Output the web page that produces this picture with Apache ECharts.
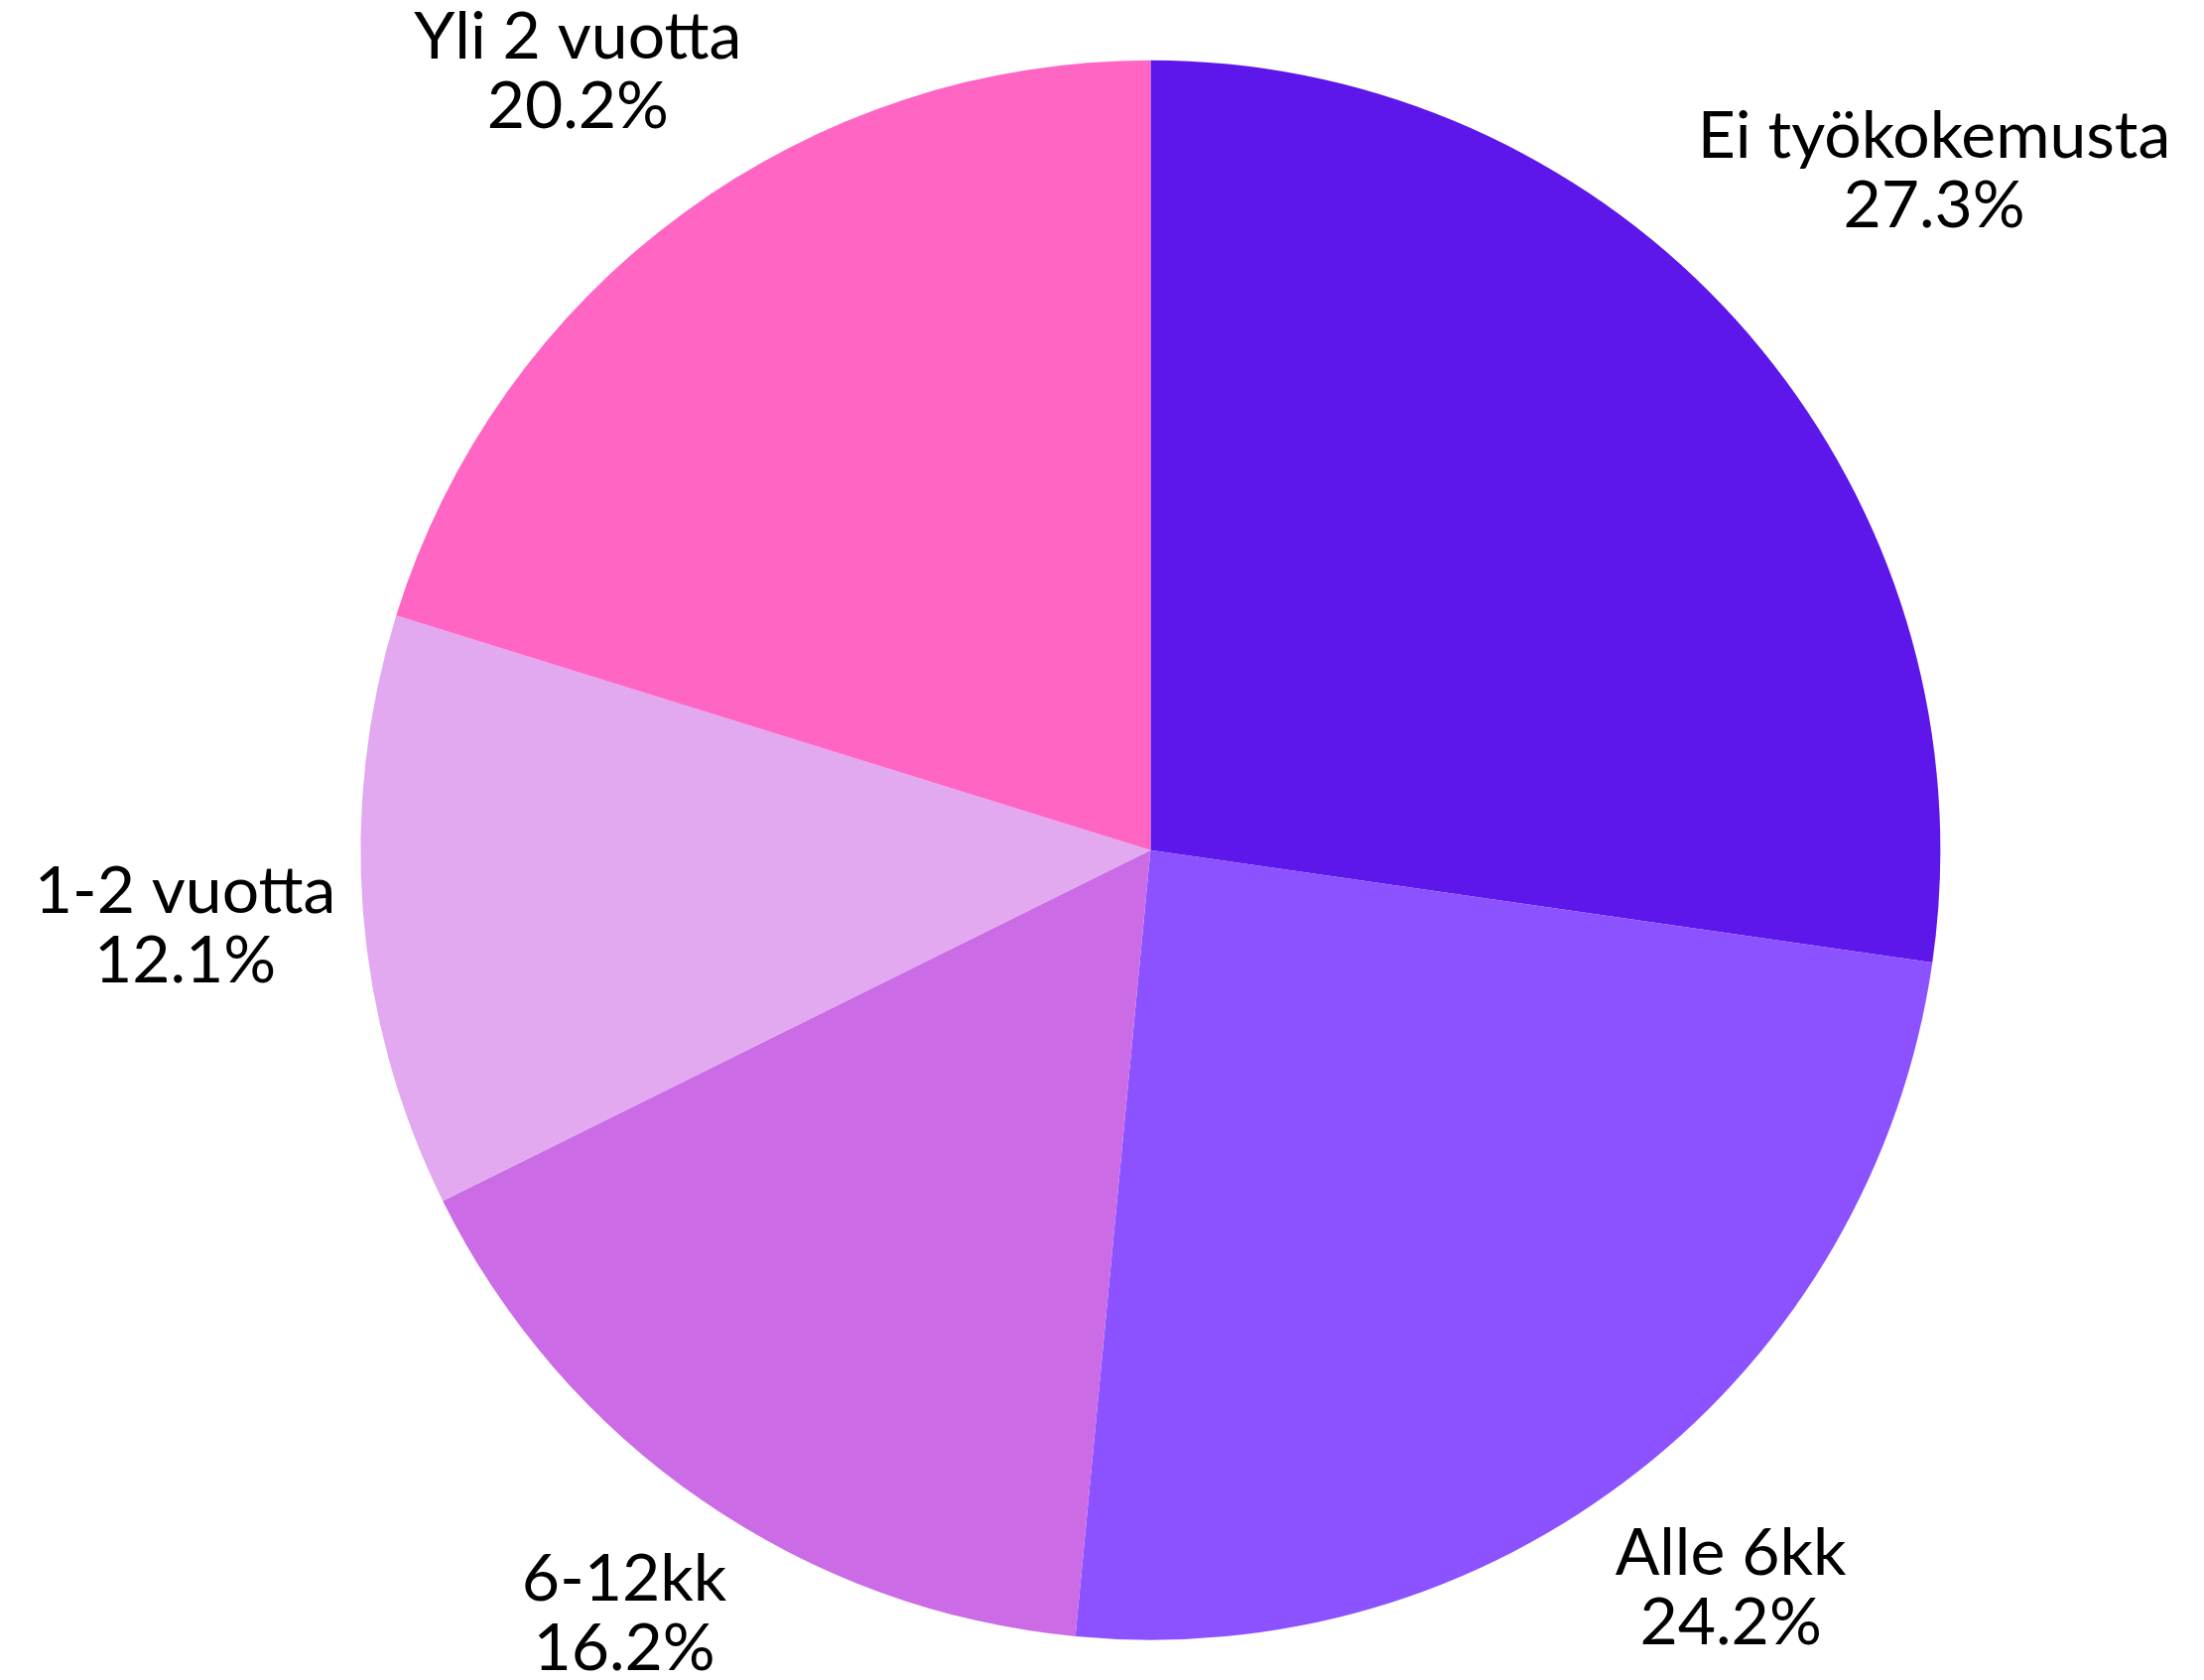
<!DOCTYPE html>
<html>
<head>
<meta charset="utf-8">
<script src="https://cdn.jsdelivr.net/npm/echarts@6/dist/echarts.min.js"></script>
<style>
  html, body { margin: 0; padding: 0; background: #ffffff; }
  #main { width: 2221px; height: 1693px; }
</style>
</head>
<body>
<div id="main"></div>
<script>
// työkokemus jakauma (lukumäärät, yhteensä 99)
var categories = ['Ei työkokemusta', 'Alle 6kk', '6-12kk', '1-2 vuotta', 'Yli 2 vuotta'];
var counts = [27, 24, 16, 12, 20];
var colors = ['#5E17EB', '#8C52FF', '#CB6CE6', '#E2A9F1', '#FF66C4'];

var CENTER = ['52.2%', '50.6%'];
var RADIUS = 796;
var GAP = 23;

var myChart = echarts.init(document.getElementById('main'));

var total = 0;
for (var k = 0; k < counts.length; k++) total += counts[k];

// keskikulma (myötäpäivään ylhäältä) viipaleelle i
function midAngle(i) {
	var before = 0;
	for (var j = 0; j < i; j++) before += counts[j];
	return (before + counts[i] / 2) / total * Math.PI * 2;
}

var pieData = categories.map(function (name, i) {
	return { name: name, value: counts[i], itemStyle: { color: colors[i] } };
});

var option = {
	backgroundColor: '#ffffff',
	animation: false,
	series: [
		{
			type: 'pie',
			center: CENTER,
			radius: RADIUS,
			startAngle: 90,
			clockwise: true,
			percentPrecision: 1,
			avoidLabelOverlap: false,
			data: pieData,
			itemStyle: { borderWidth: 0 },
			label: {
				show: true,
				position: 'outside',
				formatter: '{b}\n{d}%',
				color: '#000000',
				fontFamily: 'Lato',
				fontSize: 66,
				lineHeight: 70
			},
			labelLine: { show: false },
			// label keskitetään säteen suuntaan, reuna GAP:n päähän kehästä
			labelLayout: function (params) {
				var cx = myChart.getWidth() * parseFloat(CENTER[0]) / 100;
				var cy = myChart.getHeight() * parseFloat(CENTER[1]) / 100;
				var a = midAngle(params.dataIndex);
				var ux = Math.sin(a), uy = -Math.cos(a);
				var w = params.labelRect.width, h = params.labelRect.height;
				var d = RADIUS + GAP + Math.abs(ux) * w / 2 + Math.abs(uy) * h / 2;
				return {
					x: cx + ux * d,
					y: cy + uy * d,
					align: 'center',
					verticalAlign: 'middle'
				};
			}
		}
	]
};

myChart.setOption(option);
</script>
</body>
</html>
